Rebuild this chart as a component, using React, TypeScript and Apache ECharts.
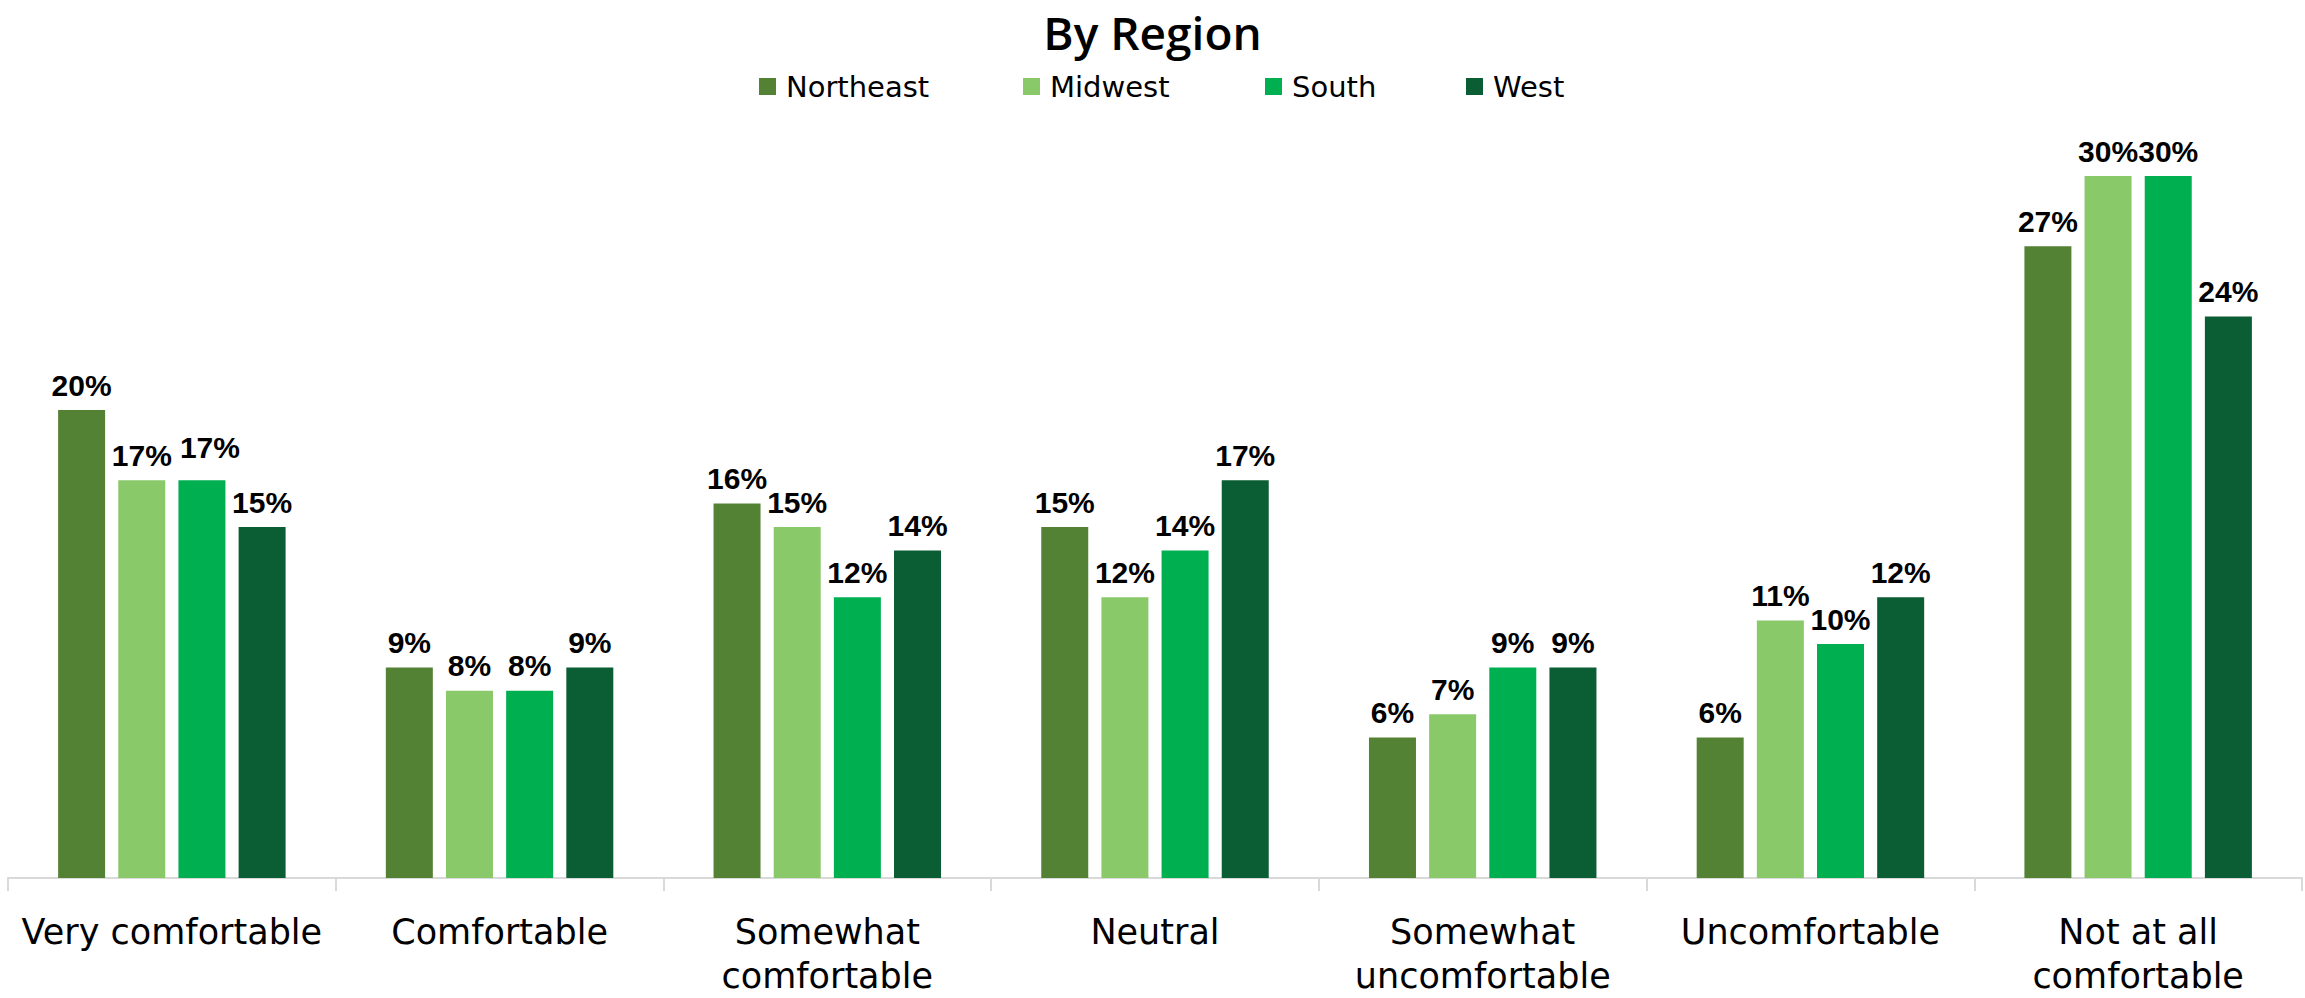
import React, { useEffect, useRef } from "react";
import * as echarts from "echarts";

const categories = [
  "Very comfortable",
  "Comfortable",
  "Somewhat\ncomfortable",
  "Neutral",
  "Somewhat\nuncomfortable",
  "Uncomfortable",
  "Not at all\ncomfortable",
];
const seriesNames = ["Northeast", "Midwest", "South", "West"];
const northeast = [20, 9, 16, 15, 6, 6, 27];
const midwest = [17, 8, 15, 12, 7, 11, 30];
const south = [17, 8, 12, 14, 9, 10, 30];
const west = [15, 9, 14, 17, 9, 12, 24];
const colors = ["#548235", "#8AC96A", "#00AF50", "#0B5D33"];
const legendLefts = [759, 1023, 1265, 1466];

export default function App() {
  const ref = useRef<HTMLDivElement>(null);
  useEffect(() => {
    if (!ref.current) return;
    const chart = echarts.init(ref.current, undefined, { renderer: "svg" });
    const values = [northeast, midwest, south, west];
    const series = seriesNames.map((name, si) => ({
      name,
      type: "bar",
      barWidth: 47,
      barGap: "28%",
      itemStyle: { color: colors[si] },
      label: {
        show: true,
        position: "top",
        distance: 10,
        formatter: "{c}%",
        fontFamily: "Liberation Sans, Arial, sans-serif",
        fontSize: 30,
        fontWeight: "bold",
        color: "#000",
      },
      data: values[si].map((v, i) =>
        si === 2 && i === 0 ? { value: v, label: { offset: [8, -8] } } : v
      ),
    }));
    chart.setOption({
      animation: false,
      backgroundColor: "#fff",
      title: {
        text: "By Region",
        left: "center",
        top: 8,
        padding: 0,
        textStyle: {
          fontFamily: "Open Sans, sans-serif",
          fontWeight: 600,
          fontSize: 46,
          lineHeight: 48,
          color: "#000",
        },
      },
      legend: seriesNames.map((n, i) => ({
        data: [n],
        left: legendLefts[i],
        top: 72,
        padding: 0,
        icon: "rect",
        itemWidth: 17,
        itemHeight: 17,
        textStyle: {
          fontFamily: "DejaVu Sans, sans-serif",
          fontSize: 29,
          color: "#000",
          padding: [0, 0, 0, 5],
        },
      })),
      grid: { left: 8, right: 3, top: 176, bottom: 112, containLabel: false },
      xAxis: {
        type: "category",
        data: categories,
        axisLine: { lineStyle: { color: "#D9D9D9", width: 2 } },
        axisTick: { show: true, length: 13, lineStyle: { color: "#D9D9D9", width: 2 } },
        axisLabel: {
          interval: 0,
          margin: 32,
          fontFamily: "DejaVu Sans, sans-serif",
          fontSize: 35,
          lineHeight: 44,
          color: "#000",
        },
      },
      yAxis: {
        type: "value",
        min: 0,
        max: 30,
        show: false,
        splitLine: { show: false },
      },
      series,
    });
    return () => chart.dispose();
  }, []);
  return (
    <div
      ref={ref}
      style={{ position: "fixed", left: 0, top: 0, width: 2305, height: 998 }}
    />
  );
}
